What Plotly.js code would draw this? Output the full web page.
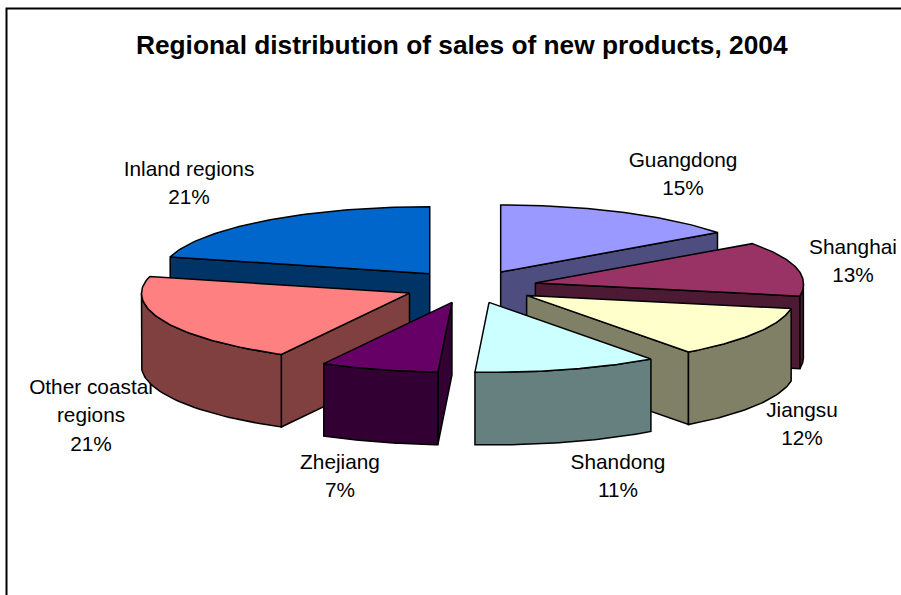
<!DOCTYPE html>
<html><head><meta charset="utf-8">
<script src="https://cdn.plot.ly/plotly-3.0.1.min.js"></script>
<style>html,body{margin:0;padding:0;background:#fff}#c{width:901px;height:595px}</style>
</head><body><div id="c"></div>
<script>
// Data (clockwise from 12 o'clock)
const regions = ['Guangdong','Shanghai','Jiangsu','Shandong','Zhejiang','Other coastal regions','Inland regions'];
const shares = [15,13,12,11,7,21,21];
const topColors = ['#9999FF','#993366','#FFFFCC','#CCFFFF','#660066','#FF8080','#0066CC'];
const sideColors = ['#4D4D80','#4D1A33','#808066','#668080','#330033','#804040','#003366'];
const drawOrder = [6,0,1,5,2,3,4];

// Label text lines and centres (drawn beneath the pie, as in the reference)
const labelLines = [['Guangdong'],['Shanghai'],['Jiangsu'],['Shandong'],['Zhejiang'],['Other coastal','regions'],['Inland regions']];
const labelCx = [683,853,802,618,340,91,189];
const labelTop = [162,249,412,464,464,389,171];
const lineStep = 28.3;

// Projection of the tilted pie (slight perspective: the front is a little larger and skewed)
const cx=470.5, cy=286.6, rx=268, ryBack=67, ryFront=70, depth=72.5, explodeX=0.248, explodeY=16.4, persp=0.015, skew=3;
const rad = d => d*Math.PI/180;
const total = shares.reduce((a,b)=>a+b,0);

const traces = [];
// labels
const tx=[],ty=[],tt=[];
regions.forEach((r,i)=>{
  const lines = labelLines[i].concat([shares[i]+'%']);
  lines.forEach((l,k)=>{tx.push(labelCx[i]);ty.push(labelTop[i]+k*lineStep);tt.push(l);});
});
traces.push({type:'scatter',mode:'text',x:tx,y:ty,text:tt,textposition:'middle center',
  textfont:{family:'Liberation Sans, Arial, sans-serif',size:20.8,color:'#000'},hoverinfo:'skip',cliponaxis:false});

function poly(xs,ys,fill,name){
  traces.push({type:'scatter',mode:'lines',x:xs.concat(xs[0]),y:ys.concat(ys[0]),fill:'toself',fillcolor:fill,
    line:{color:'#000',width:1.5,shape:'linear'},hoverinfo:'skip',name:name});
}
const angles=[];let acc=0;
shares.forEach(s=>{const a0=acc/total*360;acc+=s;angles.push([a0,acc/total*360]);});

drawOrder.forEach(i=>{
  const [a0,a1]=angles[i], mid=(a0+a1)/2;
  const ax=cx+explodeX*rx*Math.sin(rad(mid)), ay=cy-explodeY*Math.cos(rad(mid));
  const px=a=>{const c=Math.cos(rad(a));return ax+(c<0?rx*(1-persp*c)*Math.sin(rad(a))-skew*c:rx*Math.sin(rad(a)));};
  const py=a=>{const c=Math.cos(rad(a));return ay-(c<0?ryFront:ryBack)*c;};
  // radial walls that face the viewer
  if(Math.sin(rad(a0))<-1e-6) poly([ax,px(a0),px(a0),ax],[ay,py(a0),py(a0)+depth,ay+depth],sideColors[i],regions[i]);
  if(Math.sin(rad(a1))>1e-6) poly([ax,px(a1),px(a1),ax],[ay,py(a1),py(a1)+depth,ay+depth],sideColors[i],regions[i]);
  // outer wall: only the front half of the rim (90 to 270 degrees)
  const f0=Math.max(a0,90), f1=Math.min(a1,270);
  if(f1>f0){
    const xs=[],ys=[];
    for(let k=0;k<=40;k++){const a=f0+(f1-f0)*k/40;xs.push(px(a));ys.push(py(a));}
    for(let k=40;k>=0;k--){const a=f0+(f1-f0)*k/40;xs.push(px(a));ys.push(py(a)+depth);}
    poly(xs,ys,sideColors[i],regions[i]);
  }
  // top face
  const xs=[ax],ys=[ay];
  for(let k=0;k<=60;k++){const a=a0+(a1-a0)*k/60;xs.push(px(a));ys.push(py(a));}
  poly(xs,ys,topColors[i],regions[i]);
});

const layout={
  width:901,height:595,margin:{l:0,r:0,t:0,b:0},showlegend:false,
  paper_bgcolor:'#fff',plot_bgcolor:'#fff',
  xaxis:{range:[0,901],visible:false,fixedrange:true},
  yaxis:{range:[595,0],visible:false,fixedrange:true},
  title:{text:'<b>Regional distribution of sales of new products, 2004</b>',
    font:{family:'Liberation Sans, Arial, sans-serif',size:26.3,color:'#000'},x:0.5125,xanchor:'center',y:0.924,yanchor:'middle'},
  shapes:[{type:'rect',xref:'x',yref:'y',x0:6.5,y0:8.5,x1:910,y1:610,line:{color:'#000',width:2},fillcolor:'rgba(0,0,0,0)',layer:'above'}]
};
Plotly.newPlot('c',traces,layout,{displayModeBar:false,staticPlot:true});
</script></body></html>
